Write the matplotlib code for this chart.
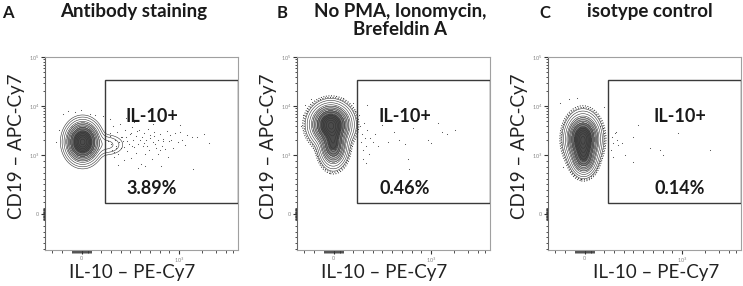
import numpy as np
import matplotlib
matplotlib.use("Agg")
import matplotlib.pyplot as plt
from matplotlib.patches import Rectangle

plt.rcParams['font.family'] = ['Lato', 'DejaVu Sans']

# ---- data (display channel units, 0-1000 on both axes) ----
panel_letters = ["A", "B", "C"]
panel_titles = ["Antibody staining", "No PMA, Ionomycin,\nBrefeldin A", "isotype control"]
gate_pcts = ["3.89%", "0.46%", "0.14%"]
gate_name = "IL-10+"
gate_x = [311, 1000]
gate_y = [244, 881]

# population shape (gaussian components)
pop_cx = [[195, 322], [175, 188], [181, 185]]
pop_cy = [[560, 545], [650, 545], [575, 480]]
pop_sx = [[38, 45], [44, 30], [36, 28]]
pop_sy = [[46, 28], [45, 48], [52, 40]]
pop_w = [[1.0, 0.05], [1.0, 0.6], [1.0, 0.45]]

# single events outside the contours
ev_a_x = [328, 337, 346, 351, 357, 361, 369, 374, 379, 387, 392, 396, 404, 411, 417, 421, 426, 434,
          438, 447, 452, 457, 461, 469, 473, 482, 486, 497, 503, 507, 511, 519, 523, 532, 537, 546,
          553, 558, 567, 577, 583, 588, 597, 607, 613, 624, 633, 641, 648, 663, 671, 688, 697, 712,
          727, 738, 763, 787, 823, 848, 768, 603, 518, 463, 377, 702, 638, 557, 483, 418,
          92, 118, 153, 188, 232, 258, 303, 338, 72, 58, 343, 366, 398, 425, 449, 476, 512, 543,
          572, 609, 651, 336, 359, 383, 409, 444, 491, 529, 566, 594]
ev_a_y = [563, 604, 517, 643, 483, 571, 538, 613, 497, 652, 588, 527, 564, 468, 623, 586, 512, 548,
          603, 477, 637, 569, 533, 592, 502, 551, 624, 447, 583, 537, 606, 496, 568, 627, 516, 582,
          473, 558, 613, 526, 572, 498, 603, 541, 577, 523, 617, 563, 594, 527, 604, 557, 612, 572,
          543, 597, 587, 584, 603, 556, 418, 433, 437, 663, 443, 647, 483, 652, 427, 683,
          703, 718, 713, 727, 707, 702, 693, 677, 623, 557, 551, 527, 588, 563, 541, 617, 553, 597,
          548, 563, 572, 589, 508, 561, 533, 608, 571, 538, 593, 516]
ev_b_x = [320, 325, 330, 335, 340, 345, 350, 355, 362, 365, 372, 380, 395, 405, 420, 440, 470, 500,
          530, 560, 575, 580, 600, 680, 695, 730, 750, 775, 820, 340, 360,
          40, 70, 240, 290, 300, 20, 30]
ev_b_y = [700, 640, 560, 600, 520, 660, 580, 540, 750, 620, 500, 580, 560, 600, 540, 650, 560, 610,
          570, 550, 470, 420, 630, 570, 555, 660, 610, 600, 620, 470, 450,
          750, 780, 790, 760, 720, 640, 700]
ev_c_x = [330, 339, 347, 356, 364, 399, 442, 442, 468, 528, 580, 598, 675, 839, 326, 339, 351, 382,
          60, 110, 150, 290, 270, 80]
ev_c_y = [587, 553, 604, 570, 544, 492, 587, 458, 648, 527, 518, 492, 604, 518, 518, 484, 613, 553,
          760, 780, 790, 740, 640, 430]
events_x = [ev_a_x, ev_b_x, ev_c_x]
events_y = [ev_a_y, ev_b_y, ev_c_y]

# label positions (channel units)
pct_x = [554, 560, 684]
name_y = 694
pct_y = 321

# axis ticks
y_major = [187, 492, 746, 1000]
y_major_lab = ["0", "10$^3$", "10$^4$", "10$^5$"]
x_major = [190, 695]
x_major_lab = ["0", "10$^3$"]

def to_y(v):
    if abs(v) < 1000:
        return 187 + v * 0.305
    return 492 + np.log10(v / 1000) * 254

def to_x(v):
    if abs(v) < 1000:
        return 190 + v * 0.505
    return 695 + np.log10(v / 1000) * 400

small = [s * k for s in (10, 100) for k in range(1, 10)]
y_minor = [to_y(s * v) for v in small for s in (1, -1)] + \
          [to_y(k * 10 ** d) for d in (3, 4) for k in range(2, 10)]
y_minor = [v for v in y_minor if 0 <= v <= 1000]
x_minor = [to_x(s * v) for v in small for s in (1, -1)] + [to_x(k * 1000) for k in range(2, 10)]
x_minor = [v for v in x_minor if 0 <= v <= 1000]

fig = plt.figure(figsize=(7.43, 2.86), dpi=100)
lefts = [45, 297, 548]
xlab_pos = [0.45, 0.453, 0.56]
letter_x = [8, 282, 545]
title_x = [134, 400, 650]

gx, gy = np.meshgrid(np.linspace(0, 1000, 400), np.linspace(0, 1000, 400))

for i in range(3):
    ax = fig.add_axes([lefts[i] / 743, 36 / 286, 193 / 743, 193 / 286])
    dens = np.zeros_like(gx)
    for cx, cy, sx, sy, w in zip(pop_cx[i], pop_cy[i], pop_sx[i], pop_sy[i], pop_w[i]):
        dens += w * np.exp(-0.5 * (((gx - cx) / sx) ** 2 + ((gy - cy) / sy) ** 2))
    dens = dens / dens.max()
    ax.contourf(gx, gy, dens, levels=[0.1, 0.27, 0.5, 1.01],
                colors=["#c4c4c4", "#808080", "#4c4c4c"])
    ax.contour(gx, gy, dens, levels=[0.01, 0.02, 0.04, 0.07, 0.1, 0.15, 0.2, 0.27, 0.35, 0.45,
                                     0.55, 0.65, 0.75, 0.85, 0.95],
               colors="#333333", linewidths=0.4)
    if i > 0:
        ax.contour(gx, gy, dens, levels=[0.004, 0.007], colors="#222222",
                   linewidths=0.7, linestyles=":")
    ax.scatter(events_x[i], events_y[i], s=0.6, color="#444444", linewidths=0)

    ax.add_patch(Rectangle((gate_x[0], gate_y[0]), gate_x[1] - gate_x[0], gate_y[1] - gate_y[0],
                           fill=False, edgecolor="#3a3a3a", linewidth=1.0, zorder=5))
    ax.text(pct_x[i], name_y, gate_name, ha="center", va="center", fontsize=13,
            fontweight="bold", color="#1a1a1a")
    ax.text(pct_x[i], pct_y, gate_pcts[i], ha="center", va="center", fontsize=13,
            fontweight="bold", color="#1a1a1a")

    ax.set_xlim(0, 1000)
    ax.set_ylim(0, 1000)
    ax.set_yticks(y_major)
    ax.set_yticklabels(y_major_lab, fontsize=4, color="#888888")
    ax.set_yticks(y_minor, minor=True)
    ax.set_xticks(x_major)
    ax.set_xticklabels(x_major_lab, fontsize=4, color="#888888")
    ax.set_xticks(x_minor, minor=True)
    ax.tick_params(which="major", length=3, width=0.8, color="#333333", pad=1)
    ax.tick_params(which="minor", length=1.8, width=0.6, color="#333333")
    for sp in ax.spines.values():
        sp.set_color("#a0a0a0")
        sp.set_linewidth(0.8)
    ax.spines["left"].set_color("#666666")

    ax.set_xlabel("IL-10 – PE-Cy7", fontsize=13.5, color="#222222", va="center")
    ax.xaxis.set_label_coords(xlab_pos[i], -0.115)
    ax.set_ylabel("CD19 – APC-Cy7", fontsize=13.5, color="#222222", va="center")
    ax.yaxis.set_label_coords(-0.15, 0.54)

    fig.text(letter_x[i] / 743, 1 - 13 / 286, panel_letters[i], ha="center", va="center",
             fontsize=12, fontweight="bold", color="#1a1a1a")
    fig.text(title_x[i] / 743, 1 - 3 / 286, panel_titles[i], ha="center", va="top",
             fontsize=13.5, fontweight="bold", color="#1a1a1a", linespacing=1.1)

fig.savefig("out.png", dpi=100)
